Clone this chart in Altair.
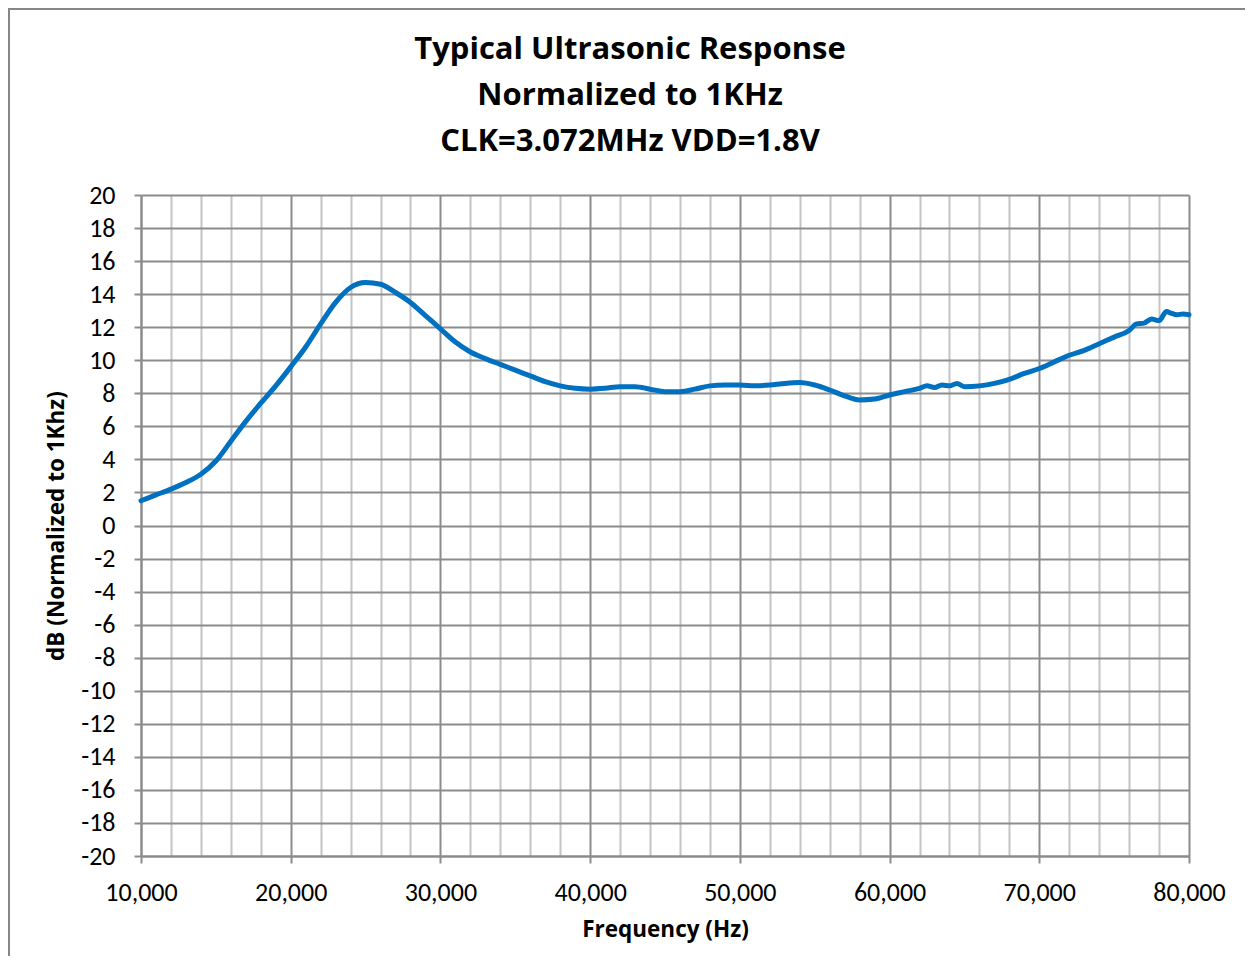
import altair as alt
import pandas as pd

# Frequency (Hz) and normalized response (dB)
freq_hz = [10000, 11000, 12000, 13000, 14000, 15000, 16000, 17000, 18000, 19000,
           20000, 21000, 22000, 23000, 24000, 25000, 26000, 27000, 28000, 29000,
           30000, 31000, 32000, 33000, 34000, 35000, 36000, 37000, 38000, 39000,
           40000, 41000, 42000, 43000, 44000, 45000, 46000, 47000, 48000, 49000,
           50000, 51000, 52000, 53000, 54000, 55000, 56000, 57000, 58000, 59000,
           60000, 61000, 62000, 62500, 63000, 63500, 64000, 64500, 65000, 66000,
           67000, 68000, 69000, 70000, 71000, 72000, 73000, 74000, 75000, 76000,
           76500, 77000, 77500, 78000, 78500, 78800, 79200, 79600, 80000]
response_db = [1.5, 1.85, 2.2, 2.6, 3.1, 3.9, 5.1, 6.3, 7.4, 8.45,
               9.6, 10.8, 12.2, 13.5, 14.4, 14.7, 14.6, 14.1, 13.5, 12.7,
               11.9, 11.1, 10.5, 10.1, 9.75, 9.4, 9.05, 8.7, 8.45, 8.3,
               8.25, 8.3, 8.4, 8.4, 8.25, 8.1, 8.1, 8.25, 8.45, 8.5,
               8.5, 8.45, 8.5, 8.6, 8.65, 8.5, 8.2, 7.85, 7.6, 7.65,
               7.9, 8.1, 8.3, 8.45, 8.35, 8.5, 8.45, 8.6, 8.4, 8.45,
               8.6, 8.85, 9.2, 9.5, 9.9, 10.3, 10.6, 11.0, 11.4, 11.8,
               12.2, 12.25, 12.5, 12.4, 12.95, 12.85, 12.75, 12.8, 12.75]

x_ticks = list(range(10000, 80001, 2000))
y_ticks = list(range(-20, 21, 2))

title_lines = ["Typical Ultrasonic Response", "Normalized to 1KHz", "CLK=3.072MHz VDD=1.8V"]

df = pd.DataFrame({"freq": freq_hz, "db": response_db})

LABEL_FONT = "Carlito, Calibri, Lato, sans-serif"
TITLE_FONT = "Open Sans, sans-serif"
GRID_DARK = "#8c8c8c"
GRID_LIGHT = "#c4c4c4"

line = alt.Chart(df).mark_line(color="#0070C0", strokeWidth=5, strokeCap="round",
                               strokeJoin="round", interpolate="monotone").encode(
    x=alt.X("freq:Q",
            scale=alt.Scale(domain=[10000, 80000], nice=False, zero=False),
            axis=alt.Axis(
                values=x_ticks,
                title="Frequency (Hz)",
                labelExpr="datum.value % 10000 === 0 ? format(datum.value, ',') : ''",
                labelFlush=False,
                labelOverlap=False,
                gridColor={"condition": {"test": "datum.value % 10000 === 0", "value": GRID_DARK},
                           "value": GRID_LIGHT},
                tickOpacity={"condition": {"test": "datum.value % 10000 === 0", "value": 1},
                             "value": 0},
                tickSize=7,
                labelPadding=16,
                titlePadding=13,
            )),
    y=alt.Y("db:Q",
            scale=alt.Scale(domain=[-20, 20], nice=False, zero=False),
            axis=alt.Axis(
                values=y_ticks,
                title="dB (Normalized to 1Khz)",
                labelExpr="'' + datum.value",
                labelFlush=False,
                labelOverlap=False,
                gridColor=GRID_DARK,
                tickSize=7,
                labelPadding=19,
                titlePadding=12,
            )),
)

frame_left = alt.Chart(df).mark_rule(color="#878787", strokeWidth=2).encode(
    x=alt.value(-132), y=alt.value(-187), y2=alt.value(800))
frame_top = alt.Chart(df).mark_rule(color="#878787", strokeWidth=2).encode(
    x=alt.value(-133), x2=alt.value(1110), y=alt.value(-186))

chart = alt.layer(frame_left, frame_top, line).properties(
    width=1048,
    height=661,
    background="#ffffff",
    autosize=alt.AutoSizeParams(type="none"),
    padding={"left": 133, "top": 187, "right": 56, "bottom": 100},
    title=alt.Title(title_lines, fontSize=31, font=TITLE_FONT, fontWeight="bold",
                    lineHeight=46, anchor="middle", baseline="bottom",
                    dx=-35, dy=182, offset=0, color="#000000"),
).configure_axis(
    labelFont=LABEL_FONT,
    labelFontSize=26,
    labelColor="#000000",
    titleFont=TITLE_FONT,
    titleFontSize=22.5,
    titleFontWeight="bold",
    titleColor="#000000",
    domainColor=GRID_DARK,
    domainWidth=2,
    tickColor=GRID_DARK,
    tickWidth=2,
    gridWidth=2,
    gridOpacity=1,
).configure_view(
    strokeWidth=0,
)

chart.save("out.html", embed_options={"renderer": "svg", "actions": False})
